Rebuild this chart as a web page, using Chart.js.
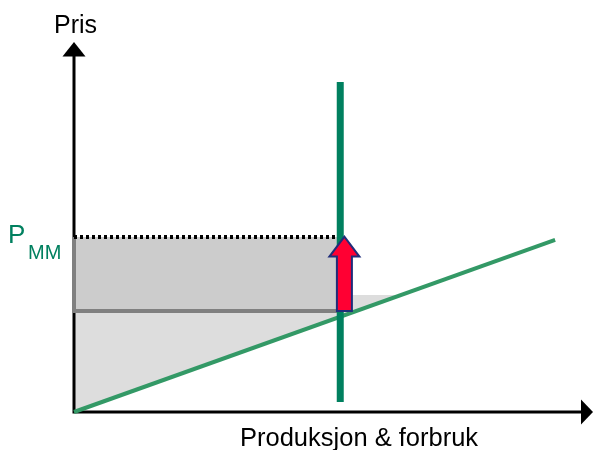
<!DOCTYPE html>
<html lang="no">

<head>
    <meta charset="UTF-8">
    <title>Pris og produksjon</title>
    <script src="https://cdn.jsdelivr.net/npm/chart.js"></script>
    <style>
        body {
            margin: 0;
            background: #ffffff;
        }

        #wrap {
            width: 594px;
            height: 450px;
        }
    </style>
</head>

<body>
    <div id="wrap">
        <canvas id="diagram" width="594" height="450"></canvas>
    </div>

    <script>
        // values (quantity 0..10, price 0..10)
        const supplyQ = [0, 9.27];
        const supplyP = [0, 4.65];
        const quotaQ = [5.13, 5.13];
        const quotaP = [0.27, 8.92];
        const priceLevels = [2.73, 3.16, 4.73];   // base price, surplus top, P_MM
        const surplusCornerQ = 6.3;
        const arrowQ = 5.21;
        const arrowP = [2.73, 4.74];
        const axisMax = [10, 10];
        const axisLabels = ['Pris', 'Produksjon & forbruk'];

        const [pBase, pTop, pMM] = priceLevels;
        const qMM = quotaQ[0];

        const pts = (qs, ps) => qs.map((q, i) => ({ x: q, y: ps[i] }));

        const GREEN_DARK = '#00805f';
        const GREEN = '#339966';

        const overlay = {
            id: 'overlay',
            afterDatasetDraw(chart, args) {
                // axes go on top of the light triangle but under the rest
                if (args.index !== 0) return;
                const { ctx, scales: { x, y } } = chart;
                const x0 = x.getPixelForValue(0), y0 = y.getPixelForValue(0);
                const xEnd = x.getPixelForValue(axisMax[0]), yEnd = y.getPixelForValue(axisMax[1]);
                ctx.save();
                ctx.strokeStyle = '#000';
                ctx.fillStyle = '#000';
                ctx.lineWidth = 3;
                ctx.beginPath();
                ctx.moveTo(x0, y0 + 1.5);
                ctx.lineTo(x0, yEnd + 12);
                ctx.moveTo(x0 - 1.5, y0);
                ctx.lineTo(xEnd - 10, y0);
                ctx.stroke();
                ctx.beginPath();
                ctx.moveTo(x0, yEnd);
                ctx.lineTo(x0 - 11.5, yEnd + 14.5);
                ctx.lineTo(x0 + 11.5, yEnd + 14.5);
                ctx.closePath();
                ctx.fill();
                ctx.beginPath();
                ctx.moveTo(xEnd, y0);
                ctx.lineTo(xEnd - 12, y0 - 12.5);
                ctx.lineTo(xEnd - 12, y0 + 12.5);
                ctx.closePath();
                ctx.fill();
                ctx.restore();
            },
            afterDatasetsDraw(chart) {
                const { ctx, scales: { x, y } } = chart;
                // red arrow
                const ax = x.getPixelForValue(arrowQ);
                const yb = y.getPixelForValue(arrowP[0]);
                const yt = y.getPixelForValue(arrowP[1]);
                ctx.save();
                ctx.beginPath();
                ctx.moveTo(ax - 7.5, yb);
                ctx.lineTo(ax - 7.5, yt + 20);
                ctx.lineTo(ax - 15, yt + 20);
                ctx.lineTo(ax, yt);
                ctx.lineTo(ax + 15, yt + 20);
                ctx.lineTo(ax + 7.5, yt + 20);
                ctx.lineTo(ax + 7.5, yb);
                ctx.closePath();
                ctx.fillStyle = '#ff0033';
                ctx.fill();
                ctx.lineWidth = 2;
                ctx.lineJoin = 'miter';
                ctx.strokeStyle = '#1f2d7a';
                ctx.stroke();

                // texts
                const x0 = x.getPixelForValue(0);
                const y0 = y.getPixelForValue(0);
                const yP = y.getPixelForValue(pMM);
                ctx.textBaseline = 'alphabetic';
                ctx.fillStyle = '#000';
                ctx.textAlign = 'left';
                ctx.font = '25px "Liberation Sans", Arial, sans-serif';
                ctx.fillText(axisLabels[0], x0 - 20, 33);
                ctx.font = '25.5px "Liberation Sans", Arial, sans-serif';
                ctx.fillText(axisLabels[1], 240, y0 + 34);
                ctx.fillStyle = GREEN_DARK;
                ctx.font = '26px "Liberation Sans", Arial, sans-serif';
                ctx.fillText('P', 8, yP + 6);
                ctx.font = '20px "Liberation Sans", Arial, sans-serif';
                ctx.fillText('MM', 28, yP + 22);
                ctx.restore();
            }
        };

        new Chart(document.getElementById('diagram'), {
            type: 'scatter',
            data: {
                datasets: [
                    {
                        // light grey triangle above the supply curve
                        data: pts([0, 0, surplusCornerQ, 0], [0, pTop, pTop, 0]),
                        showLine: true,
                        fill: 'shape',
                        backgroundColor: '#dddddd',
                        borderWidth: 0,
                        pointRadius: 0,
                        clip: false,
                        order: 7
                    },
                    {
                        // dark grey rectangle
                        data: pts([0, qMM, qMM, 0, 0], [pBase, pBase, pMM, pMM, pBase]),
                        showLine: true,
                        fill: 'shape',
                        backgroundColor: '#cccccc',
                        borderWidth: 0,
                        pointRadius: 0,
                        clip: false,
                        order: 6
                    },
                    {
                        // grey border left and bottom
                        data: pts([0, 0, qMM], [pMM, pBase, pBase]),
                        showLine: true,
                        borderColor: '#808080',
                        borderWidth: 4,
                        pointRadius: 0,
                        clip: false,
                        order: 5
                    },
                    {
                        // dotted line at P_MM
                        data: pts([0, qMM], [pMM, pMM]),
                        showLine: true,
                        borderColor: '#000000',
                        borderWidth: 4,
                        borderDash: [3, 3],
                        borderCapStyle: 'butt',
                        pointRadius: 0,
                        clip: false,
                        order: 4
                    },
                    {
                        // supply
                        data: pts(supplyQ, supplyP),
                        showLine: true,
                        borderColor: GREEN,
                        borderWidth: 4,
                        pointRadius: 0,
                        clip: false,
                        order: 3
                    },
                    {
                        // fixed quantity
                        data: pts(quotaQ, quotaP),
                        showLine: true,
                        borderColor: GREEN_DARK,
                        borderWidth: 7,
                        borderCapStyle: 'butt',
                        pointRadius: 0,
                        clip: false,
                        order: 2
                    }
                ]
            },
            options: {
                responsive: false,
                animation: false,
                layout: {
                    padding: { left: 74, right: 1, top: 42, bottom: 38 }
                },
                plugins: {
                    legend: { display: false },
                    tooltip: { enabled: false }
                },
                scales: {
                    x: { type: 'linear', min: 0, max: axisMax[0], display: false },
                    y: { type: 'linear', min: 0, max: axisMax[1], display: false }
                }
            },
            plugins: [overlay]
        });
    </script>
</body>

</html>
